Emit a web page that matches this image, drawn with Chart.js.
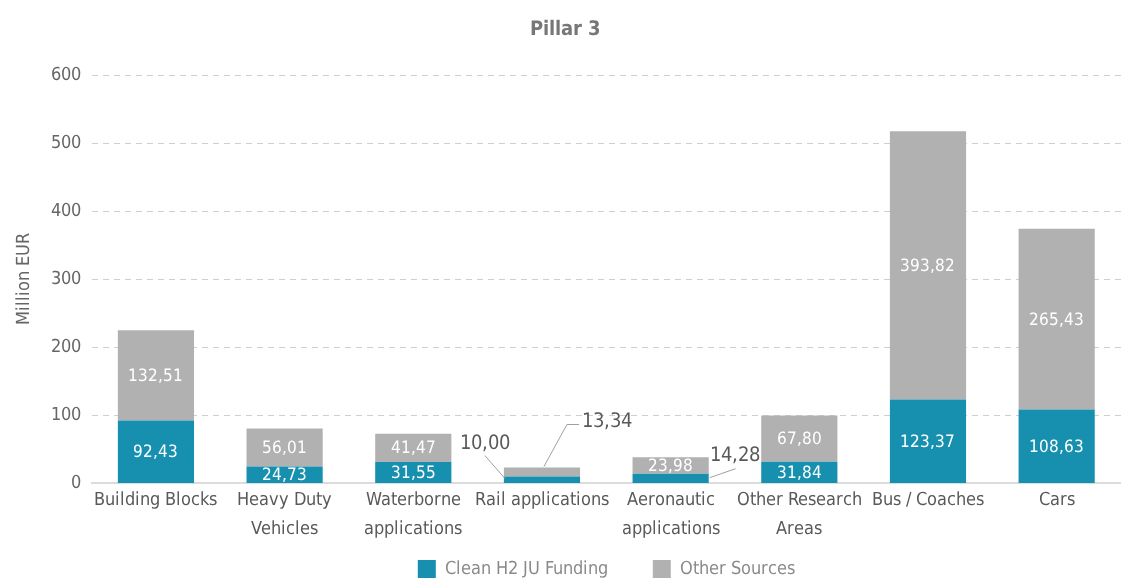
<!DOCTYPE html>
<html>
<head>
<meta charset="utf-8">
<script src="https://cdn.jsdelivr.net/npm/chart.js@4"></script>
<style>
  @font-face {
    font-family: 'NarrowUI';
    src: local('Liberation Sans Narrow'), local('LiberationSansNarrow-Regular'),
         local('DejaVu Sans Condensed'), local('DejaVuSansCondensed');
    font-weight: normal;
  }
  @font-face {
    font-family: 'NarrowUI';
    src: local('Liberation Sans Narrow Bold'), local('LiberationSansNarrow-Bold'),
         local('DejaVu Sans Condensed Bold'), local('DejaVuSansCondensed-Bold');
    font-weight: bold;
  }
  html, body { margin: 0; padding: 0; background: #ffffff; }
  #wrap { width: 1121px; height: 579px; }
</style>
</head>
<body>
<div id="wrap"><canvas id="c" width="1121" height="579"></canvas></div>
<script>
const categories = [
  'Building Blocks',
  ['Heavy Duty', 'Vehicles'],
  ['Waterborne', 'applications'],
  'Rail applications',
  ['Aeronautic', 'applications'],
  ['Other Research', 'Areas'],
  'Bus / Coaches',
  'Cars'
];
const jointFunding = [92.43, 24.73, 31.55, 10.00, 14.28, 31.84, 123.37, 108.63];
const otherSources = [132.51, 56.01, 41.47, 13.34, 23.98, 67.80, 393.82, 265.43];
const yTicks = [0, 100, 200, 300, 400, 500, 600];

const FONT = "NarrowUI, 'DejaVu Sans', sans-serif";
const TEAL = '#1790b0';
const GREY = '#b1b1b1';

// Small segments get their value written beside the bar with a leader line
const calloutLabels = {
  '0:3': { dx: -57, dy: -33, align: 'center', line: [[-57, -21], [-37, 2]] },
  '1:3': { dx: 40, dy: -46, align: 'left', line: [[2, -1], [25, -43], [37, -43]] },
  '0:4': { dx: 64, dy: -18, align: 'center', line: [[39, 4], [65, -5]] }
};

const fmt = v => v.toFixed(2).replace('.', ',');

const valueLabels = {
  id: 'valueLabels',
  afterDatasetsDraw(chart) {
    const ctx = chart.ctx;
    chart.data.datasets.forEach((ds, di) => {
      const meta = chart.getDatasetMeta(di);
      meta.data.forEach((bar, i) => {
        const text = fmt(ds.data[i]);
        const key = di + ':' + i;
        ctx.save();
        if (calloutLabels[key]) {
          const c = calloutLabels[key];
          ctx.strokeStyle = '#a0a0a0';
          ctx.lineWidth = 1;
          ctx.beginPath();
          c.line.forEach((p, k) => {
            const px = bar.x + p[0], py = bar.y + p[1];
            if (k === 0) ctx.moveTo(px, py); else ctx.lineTo(px, py);
          });
          ctx.stroke();
          ctx.fillStyle = '#595959';
          ctx.font = '20px ' + FONT;
          ctx.textAlign = c.align;
          ctx.textBaseline = 'middle';
          ctx.fillText(text, bar.x + c.dx, bar.y + c.dy);
        } else {
          ctx.fillStyle = '#ffffff';
          ctx.font = '17px ' + FONT;
          ctx.textAlign = 'center';
          ctx.textBaseline = 'middle';
          ctx.fillText(text, bar.x, (bar.y + bar.base) / 2 + 1);
        }
        ctx.restore();
      });
    });
  }
};

function draw() {
  new Chart(document.getElementById('c'), {
    type: 'bar',
    data: {
      labels: categories,
      datasets: [
        { label: 'Clean H2 JU Funding', data: jointFunding, backgroundColor: TEAL,
          barPercentage: 0.74, categoryPercentage: 0.8 },
        { label: 'Other Sources', data: otherSources, backgroundColor: GREY,
          barPercentage: 0.74, categoryPercentage: 0.8 }
      ]
    },
    options: {
      responsive: false,
      animation: false,
      devicePixelRatio: 1,
      layout: { padding: { left: 10, right: 0, top: 12, bottom: -9 } },
      plugins: {
        title: {
          display: true,
          text: 'Pillar 3',
          color: '#777777',
          font: { family: FONT, size: 20, weight: 'bold' },
          padding: { top: 6, bottom: 33 }
        },
        legend: {
          position: 'bottom',
          fullSize: false,
          labels: {
            color: '#8a8a8a',
            font: { family: FONT, size: 18 },
            boxWidth: 18,
            boxHeight: 18,
            padding: 13,
            // widen the gap between the two legend entries
            generateLabels: chart => {
              const items = Chart.defaults.plugins.legend.labels.generateLabels(chart);
              items.forEach((it, k) => { if (k < items.length - 1) it.text += '\u2003\u2003'; });
              return items;
            }
          }
        },
        tooltip: { enabled: false }
      },
      scales: {
        x: {
          stacked: true,
          grid: { display: false, drawTicks: false },
          border: { display: true, color: '#dcdcdc', width: 2 },
          ticks: {
            color: '#595959',
            font: { family: FONT, size: 18, lineHeight: 1.6 },
            padding: 3,
            maxRotation: 0,
            autoSkip: false
          }
        },
        y: {
          stacked: true,
          min: yTicks[0],
          max: yTicks[yTicks.length - 1],
          afterBuildTicks: axis => { axis.ticks = yTicks.map(v => ({ value: v })); },
          grid: { color: '#cfcfcf', drawTicks: false, lineWidth: 1 },
          border: { display: false, dash: [6, 5] },
          ticks: {
            color: '#666666',
            font: { family: FONT, size: 18 },
            padding: 11
          },
          title: {
            display: true,
            text: 'Million EUR',
            color: '#666666',
            font: { family: FONT, size: 18 },
            padding: { bottom: 4 }
          }
        }
      }
    },
    plugins: [valueLabels]
  });
}

Promise.all([
  document.fonts.load('20px NarrowUI'),
  document.fonts.load('bold 20px NarrowUI')
]).then(draw, draw);
</script>
</body>
</html>
